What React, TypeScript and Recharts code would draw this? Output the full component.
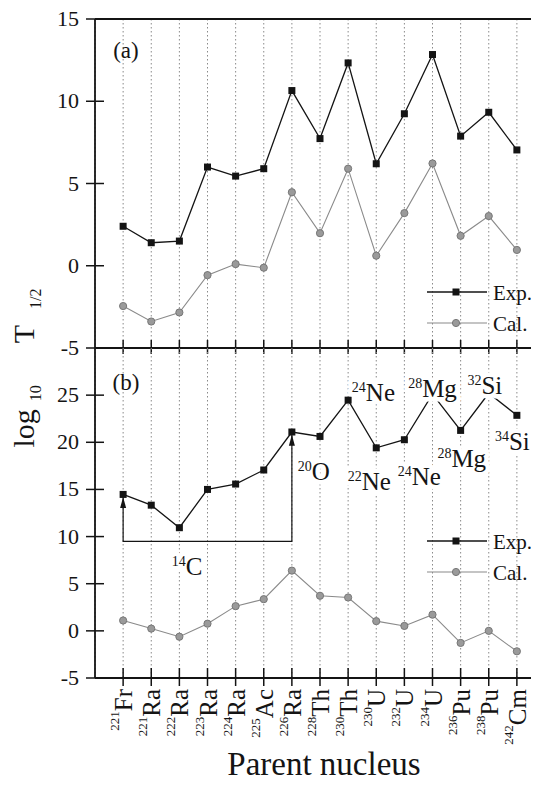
import { LineChart, Line, XAxis, YAxis, CartesianGrid, ReferenceLine, ReferenceDot, Legend } from 'recharts';

const massNumbers = ['221', '221', '222', '223', '224', '225', '226', '228', '230', '230', '232', '234', '236', '238', '242'];
const elements = ['Fr', 'Ra', 'Ra', 'Ra', 'Ra', 'Ac', 'Ra', 'Th', 'Th', 'U', 'U', 'U', 'Pu', 'Pu', 'Cm'];

// panel (a)
const expA = [2.4, 1.4, 1.5, 6.0, 5.45, 5.9, 10.65, 7.73, 12.33, 6.2, 9.24, 12.84, 7.88, 9.33, 7.04];
const calA = [-2.45, -3.39, -2.84, -0.57, 0.1, -0.12, 4.47, 1.98, 5.9, 0.61, 3.2, 6.22, 1.82, 3.02, 0.96];

// panel (b)
const expB = [14.47, 13.33, 10.94, 15.0, 15.57, 17.06, 21.09, 20.62, 24.47, 19.41, 20.27, 25.1, 21.26, 25.2, 22.86];
const calB = [1.1, 0.24, -0.62, 0.76, 2.62, 3.36, 6.39, 3.72, 3.54, 1.03, 0.52, 1.72, -1.28, 0.0, -2.17];

const ticksA = [-5, 0, 5, 10, 15];
const ticksB = [-5, 0, 5, 10, 15, 20, 25];
const xTicks = massNumbers.map((_, i) => i + 1);

// emitted clusters in panel (b)
const clusterMass = ['14', '20', '24', '22', '24', '28', '28', '32', '34'];
const clusterEl = ['C', 'O', 'Ne', 'Ne', 'Ne', 'Mg', 'Mg', 'Si', 'Si'];
const clusterX = [3.27, 7.78, 9.9, 9.75, 11.53, 12.0, 13.04, 13.86, 14.84];
const clusterY = [5.92, 16.0, 24.4, 14.94, 15.47, 24.83, 17.4, 25.1, 19.18];

// arrow bracket 221Fr -> 226Ra
const arrowPath = [
  { i: 1, v: 14.2, tip: true },
  { i: 1, v: 9.5 },
  { i: 7, v: 9.5 },
  { i: 7, v: 20.8, tip: true },
];

const rowsA = expA.map((e, k) => ({ i: k + 1, exp: e, cal: calA[k] }));
const rowsB = expB.map((e, k) => ({ i: k + 1, exp: e, cal: calB[k] }));

const FONT = "'Liberation Serif', 'Times New Roman', serif";
const INK = '#141414';
const GREY = '#8a8a8a';

const W = 560;
const H = 785;

const YTick = (props: any) => {
  const { x, y, payload } = props;
  return (
    <g>
      <line x1={x - 9} x2={x + 9} y1={y} y2={y} stroke={INK} strokeWidth={1.5} />
      <text x={x - 16} y={y} dy={7} textAnchor="end" fontSize={22} fontFamily={FONT} fill={INK}>
        {payload.value}
      </text>
    </g>
  );
};

const PlainXTick = (props: any) => {
  const { x } = props;
  const y = props.y - 1;
  return <line x1={x} x2={x} y1={y - 7} y2={y + 7} stroke={INK} strokeWidth={1.5} />;
};

const NucleusTick = (props: any) => {
  const { x, payload } = props;
  const y = props.y - 1;
  const k = payload.value - 1;
  const bx = x + 9;
  const by = y + 12;
  return (
    <g>
      <line x1={x} x2={x} y1={y - 9} y2={y + 9} stroke={INK} strokeWidth={1.5} />
      <text transform={`rotate(-90, ${bx}, ${by})`} x={bx} y={by} textAnchor="end" fontFamily={FONT} fill={INK}>
        <tspan fontSize={13} dy={-13}>{massNumbers[k]}</tspan>
        <tspan fontSize={25} dy={13}>{elements[k]}</tspan>
      </text>
    </g>
  );
};

const SquareDot = (props: any) => {
  const { cx, cy, index } = props;
  if (cx == null || cy == null) return <g key={index} />;
  return <rect key={index} x={cx - 3.5} y={cy - 3.5} width={7} height={7} fill={INK} />;
};

const RoundDot = (props: any) => {
  const { cx, cy, index } = props;
  if (cx == null || cy == null) return <g key={index} />;
  return <circle key={index} cx={cx} cy={cy} r={3.6} fill="#9a9a9a" stroke="#777" strokeWidth={1} />;
};

const ArrowHead = (props: any) => {
  const { cx, cy, index, payload } = props;
  if (!payload || !payload.tip) return <g key={index} />;
  return <path key={index} d={`M${cx},${cy} L${cx - 3},${cy + 11} L${cx + 3},${cy + 11} Z`} fill={INK} />;
};

const ClusterText = ({ x, y, k, halo }: { x: number; y: number; k: number; halo: boolean }) => (
  <text
    x={x}
    y={y}
    textAnchor="middle"
    fontFamily={FONT}
    fill={halo ? '#fff' : INK}
    stroke={halo ? '#fff' : 'none'}
    strokeWidth={halo ? 9 : 0}
    strokeLinejoin="round"
  >
    <tspan fontSize={14} dy={-9}>{clusterMass[k]}</tspan>
    <tspan fontSize={25} dy={9}>{clusterEl[k]}</tspan>
  </text>
);

const clusterShape = (k: number) => (props: any) => (
  <g>
    <ClusterText x={props.cx} y={props.cy} k={k} halo />
    <ClusterText x={props.cx} y={props.cy} k={k} halo={false} />
  </g>
);

const panelTag = (tag: string) => (props: any) => (
  <text x={props.cx} y={props.cy} textAnchor="middle" fontSize={23} fontFamily={FONT} fill={INK}>
    {tag}
  </text>
);

const LegendBox = () => (
  <svg width={114} height={56} style={{ display: 'block' }}>
    <line x1={2} x2={62} y1={12} y2={12} stroke={INK} strokeWidth={1.3} />
    <rect x={27.5} y={8.5} width={7} height={7} fill={INK} />
    <text x={68} y={19.5} fontSize={21} fontFamily={FONT} fill={INK}>Exp.</text>
    <line x1={2} x2={62} y1={43} y2={43} stroke={GREY} strokeWidth={1.1} />
    <circle cx={31} cy={43} r={3.6} fill="#9a9a9a" stroke="#777" strokeWidth={1} />
    <text x={68} y={50.5} fontSize={21} fontFamily={FONT} fill={INK}>Cal.</text>
  </svg>
);

const YTitle = () => (
  <text transform="rotate(-90, 34, 368)" x={34} y={368} textAnchor="middle" fontFamily={FONT} fill={INK}>
    <tspan fontSize={30}>log</tspan>
    <tspan fontSize={16} dx={8} dy={7}>10</tspan>
    <tspan fontSize={30} dx={42} dy={-7}>T</tspan>
    <tspan fontSize={16} dx={16} dy={7}>1/2</tspan>
  </text>
);

const XTitle = () => (
  <text x={324} y={775} textAnchor="middle" fontSize={33} fontFamily={FONT} fill={INK}>
    Parent nucleus
  </text>
);

const legendWrap = (top: number) => ({ position: 'absolute' as const, left: 425, top, right: 'auto', bottom: 'auto', width: 114 });

export default function App() {
  return (
    <div style={{ position: 'relative', width: 539, height: 785, margin: -8, overflow: 'hidden', background: '#fff' }}>
      <div style={{ position: 'absolute', left: 0, top: 0 }}>
        <LineChart width={W} height={H} data={rowsA} margin={{ top: 19, right: 15, bottom: H - 349, left: 0 }}>
          <CartesianGrid horizontal={false} stroke="#8a8a8a" strokeDasharray="1.5 2.5" />
          <XAxis
            dataKey="i"
            type="number"
            domain={[0, 16]}
            ticks={xTicks}
            interval={0}
            height={1}
            tickSize={0}
            tickMargin={0}
            tickLine={false}
            tick={<PlainXTick />}
            axisLine={{ stroke: INK, strokeWidth: 1.8 }}
          />
          <YAxis
            type="number"
            domain={[-5, 15]}
            ticks={ticksA}
            interval={0}
            width={95}
            tickSize={0}
            tickMargin={0}
            tickLine={false}
            tick={<YTick />}
            axisLine={{ stroke: INK, strokeWidth: 1.8 }}
            label={<YTitle />}
          />
          <ReferenceLine y={15} stroke={INK} strokeWidth={1.8} />
          <Line dataKey="exp" stroke={INK} strokeWidth={1.3} dot={<SquareDot />} isAnimationActive={false} />
          <Line dataKey="cal" stroke={GREY} strokeWidth={1.1} dot={<RoundDot />} isAnimationActive={false} />
          <ReferenceDot x={1.1} y={12.6} r={0} shape={panelTag('(a)')} />
          <Legend layout="vertical" align="center" verticalAlign="middle" wrapperStyle={legendWrap(280)} content={() => <LegendBox />} />
        </LineChart>
      </div>
      <div style={{ position: 'absolute', left: 0, top: 0 }}>
        <LineChart width={W} height={H} data={rowsB} margin={{ top: 348, right: 15, bottom: H - 679, left: 0 }}>
          <CartesianGrid horizontal={false} stroke="#8a8a8a" strokeDasharray="1.5 2.5" />
          <XAxis
            dataKey="i"
            type="number"
            domain={[0, 16]}
            ticks={xTicks}
            interval={0}
            height={1}
            tickSize={0}
            tickMargin={0}
            tickLine={false}
            tick={<NucleusTick />}
            axisLine={{ stroke: INK, strokeWidth: 1.8 }}
            label={<XTitle />}
          />
          <YAxis
            type="number"
            domain={[-5, 30]}
            ticks={ticksB}
            interval={0}
            width={95}
            tickSize={0}
            tickMargin={0}
            tickLine={false}
            tick={<YTick />}
            axisLine={{ stroke: INK, strokeWidth: 1.8 }}
          />
          <Line data={arrowPath} dataKey="v" stroke={INK} strokeWidth={1.2} dot={<ArrowHead />} isAnimationActive={false} />
          <Line dataKey="exp" stroke={INK} strokeWidth={1.3} dot={<SquareDot />} isAnimationActive={false} />
          <Line dataKey="cal" stroke={GREY} strokeWidth={1.1} dot={<RoundDot />} isAnimationActive={false} />
          {clusterX.map((cx, k) => (
            <ReferenceDot key={k} x={cx} y={clusterY[k]} r={0} shape={clusterShape(k)} zIndex={1500} />
          ))}
          <ReferenceDot x={1.1} y={25.5} r={0} shape={panelTag('(b)')} />
          <Legend layout="vertical" align="center" verticalAlign="middle" wrapperStyle={legendWrap(529)} content={() => <LegendBox />} />
        </LineChart>
      </div>
    </div>
  );
}
